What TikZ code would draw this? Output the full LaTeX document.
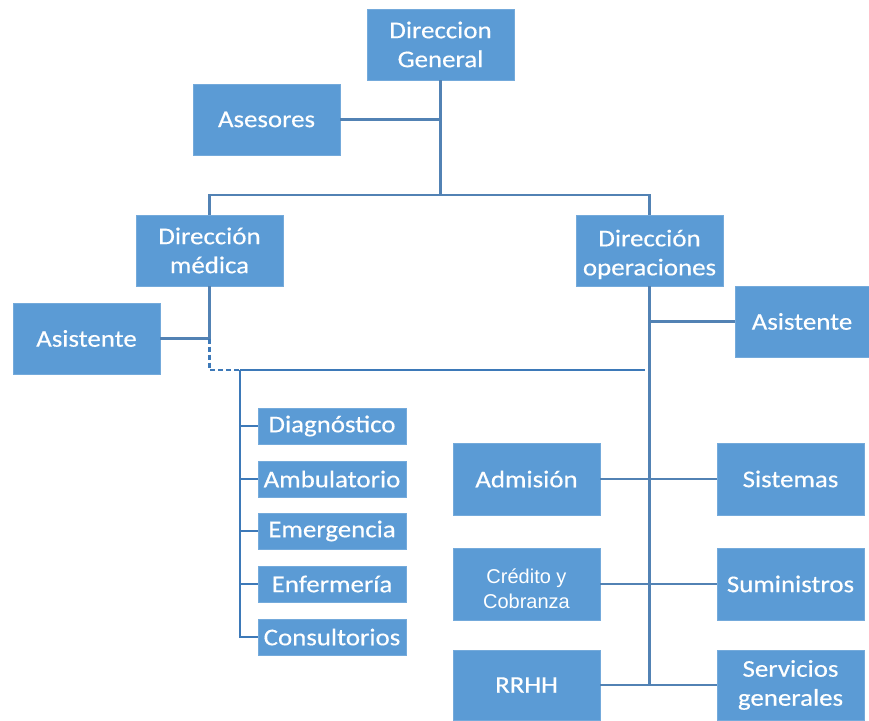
\documentclass[tikz,border=0pt]{standalone}
\usepackage{fontspec}
\setmainfont[FakeStretch=1.12,FakeBold=0.4]{Carlito}
\newfontfamily\armfont{Liberation Sans}
\definecolor{boxblue}{HTML}{5B9BD5}
\definecolor{linkblue}{HTML}{5282B4}
\definecolor{medblue}{HTML}{3D79B8}
\begin{document}
\begin{tikzpicture}[x=1pt,y=-1pt,
  box/.style={fill=boxblue,draw=boxblue!85!white,line width=0.8pt,text=white,
    minimum width=147pt,minimum height=71pt,inner sep=0pt,align=center,
    font=\fontsize{24}{29}\selectfont},
  unitbox/.style={box,minimum width=148pt,minimum height=36pt},
  link/.style={draw=linkblue,line width=2.6pt},
  mlink/.style={draw=medblue,line width=2.8pt},
  dlink/.style={draw=medblue,line width=2.4pt,dash pattern=on 5pt off 3pt}]
\useasboundingbox (0,0) rectangle (869,720);

% top level
\node[box] (dg) at (440.5,44.5) {Direccion\\General};
\node[box] (ases) at (266.5,119.5) {Asesores};
\node[box] (dmed) at (209.5,250.5) {Dirección\\médica};
\node[box,text depth=0pt] (dops) at (649.5,250.5) {\raisebox{10.5pt}{\parbox{145pt}{\centering Dirección\\operaciones}}};
\node[box] (asl) at (86.5,338.5) {Asistente};
\node[box,minimum width=134pt] (asr) at (802,321.5) {Asistente};

% medical units
\node[unitbox] (diag) at (332,426) {Diagnóstico};
\node[unitbox] (amb) at (332,479) {Ambulatorio};
\node[unitbox] (emer) at (332,531) {Emergencia};
\node[unitbox] (enf) at (332,584) {Enfermería};
\node[unitbox] (cons) at (332,637) {Consultorios};

% operations units
\node[box,minimum height=72pt] (adm) at (526.5,479) {Admisión};
\node[box,minimum height=72pt] (sis) at (790.5,479) {Sistemas};
\node[box,minimum height=72pt,text depth=0pt,font=\armfont\fontsize{20}{25}\selectfont] (cred) at (526.5,584) {\raisebox{4.5pt}{\parbox{140pt}{\centering Crédito y\\Cobranza}}};
\node[box,minimum height=72pt] (sum) at (790.5,584) {Suministros};
\node[box,minimum height=70pt] (rrhh) at (526.5,685) {RRHH};
\node[box,minimum height=70pt] (serv) at (790.5,685) {Servicios\\generales};

% junction points
\coordinate (jtop) at (dg.south |- 0,195);
\coordinate (jases) at (dg.south |- ases.east);
\coordinate (jasl) at (dmed.south |- asl.east);
\coordinate (jcorner) at (dmed.south |- 0,370);
\coordinate (jmed) at (240,370);
\coordinate (jend) at (645,370);
\coordinate (jasr) at (dops.south |- asr.west);
\coordinate (jbottom) at (dops.south |- 0,685);

% general direction
\draw[link] (dg.south) -- (jtop);
\draw[link] (ases.east) -- (jases);
\draw[link] (dmed.north) |- (jtop) -| (dops.north);

% medical direction
\draw[link] (dmed.south) -- (jasl);
\draw[link] (asl.east) -- (jasl);
\draw[dlink] (jasl) -- (jcorner) -- (jmed);
\draw[mlink] (jmed) -- (jend);
\draw[mlink] (jmed) |- (cons.west);
\foreach \u in {diag,amb,emer,enf}
  \draw[mlink] (jmed |- \u.west) -- (\u.west);

% operations direction
\draw[link] (dops.south) -- (jbottom);
\draw[link] (asr.west) -- (jasr);
\draw[link] (adm.east) -- (sis.west);
\draw[link] (cred.east) -- (sum.west);
\draw[link] (rrhh.east) -- (serv.west);
\end{tikzpicture}
\end{document}
